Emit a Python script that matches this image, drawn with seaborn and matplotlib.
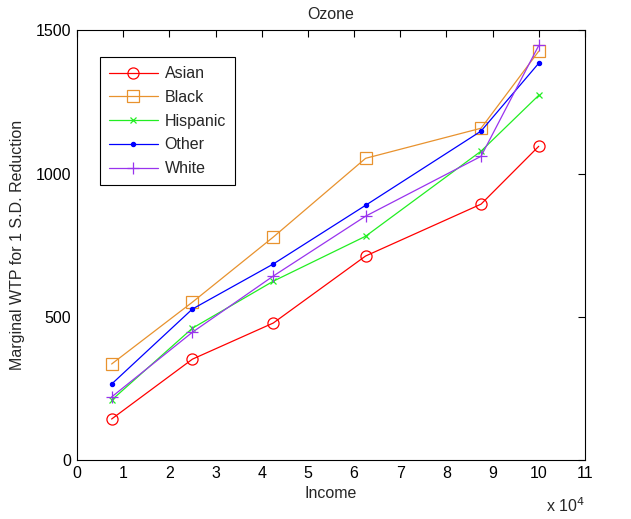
import numpy as np
import matplotlib
matplotlib.use("Agg")
import matplotlib.pyplot as plt
import pandas as pd
import seaborn as sns

# income in units of 10^4
income = [0.75, 2.5, 4.25, 6.25, 8.75, 10.0]
asian = [143, 352, 478, 712, 893, 1095]
black = [335, 551, 778, 1053, 1158, 1427]
hispanic = [209, 460, 624, 781, 1078, 1273]
other = [265, 527, 684, 889, 1148, 1385]
white = [220, 446, 642, 851, 1060, 1447]

groups = ["Asian", "Black", "Hispanic", "Other", "White"]
series = [asian, black, hispanic, other, white]

styles = {
    "Asian": dict(color="#FF0000", marker="o", ms=8, mfc="none"),
    "Black": dict(color="#E8922E", marker="s", ms=8, mfc="none"),
    "Hispanic": dict(color="#22EE22", marker="x", ms=4, mfc="none"),
    "Other": dict(color="#0000FF", marker=".", ms=6, mfc="#0000FF"),
    "White": dict(color="#9933EE", marker="+", ms=9, mfc="none"),
}

df = pd.DataFrame({
    "Income": np.tile(income, len(groups)),
    "WTP": np.concatenate(series),
    "Group": np.repeat(groups, len(income)),
})

fs = 11.5
sns.set_style("white")
plt.rcParams["font.family"] = ["Liberation Sans", "DejaVu Sans"]
plt.rcParams["font.size"] = fs

fig = plt.figure(figsize=(6.31, 5.19), dpi=100)
ax = fig.add_axes([0.122, 0.1137, 0.805, 0.828])

for g in groups:
    st = styles[g]
    sns.lineplot(data=df[df["Group"] == g], x="Income", y="WTP", ax=ax,
                 color=st["color"], marker=st["marker"], markersize=st["ms"],
                 markerfacecolor=st["mfc"], markeredgecolor=st["color"],
                 markeredgewidth=0.9, linewidth=0.9, label=g)

ax.set_xlim(0, 11)
ax.set_ylim(0, 1500)
ax.set_xticks(range(0, 12))
ax.set_yticks([0, 500, 1000, 1500])
ax.tick_params(direction="in", top=True, right=True, length=5, width=0.8,
               labelsize=fs, colors="black", pad=4)
for s in ax.spines.values():
    s.set_color("black")
    s.set_linewidth(0.8)

ax.set_xlabel("Income", fontsize=fs, labelpad=4)
ax.set_ylabel("Marginal WTP for 1 S.D. Reduction", fontsize=fs, labelpad=8)
ax.set_title("Ozone", fontsize=fs, pad=8)
ax.text(1.0, -0.085, r"x 10$^4$", transform=ax.transAxes, ha="right", va="top",
        fontsize=fs)

leg = ax.legend(loc="upper left", bbox_to_anchor=(0.045, 0.937), fancybox=False,
                framealpha=1, edgecolor="black", handlelength=3.1,
                handletextpad=0.4, labelspacing=0.55, borderpad=0.55,
                borderaxespad=0, fontsize=fs)
leg.get_frame().set_linewidth(0.8)

fig.savefig("out.png", dpi=100)
